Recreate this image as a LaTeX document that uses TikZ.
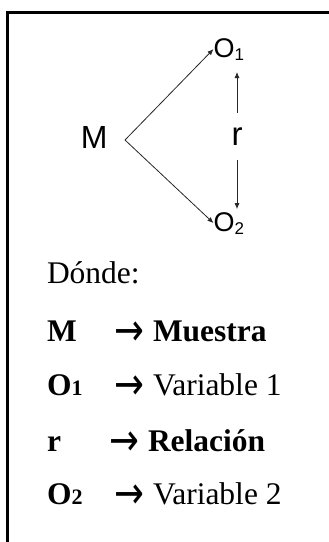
\documentclass[tikz,border=0pt]{standalone}
\usepackage{fontspec}
\setmainfont{Liberation Serif}
\newfontfamily\diagfont{Liberation Sans}
\newfontfamily\arrowfont{DejaVu Sans}
\usetikzlibrary{arrows.meta}
\tikzset{
  lbl/.style={inner sep=0pt, outer sep=0pt, anchor=base west},
  dg/.style={lbl, font=\diagfont\fontsize{27}{27}\selectfont},
  conn/.style={line width=0.8pt, draw=black!85, -{Latex[length=6pt,width=5pt]}},
  leg/.style={lbl, font=\fontsize{31.5}{31.5}\selectfont},
  legarrow/.style={lbl, font=\arrowfont\fontsize{31}{31}\selectfont},
  frameline/.style={line width=3pt, line join=miter}
}
\newcommand{\dsub}[1]{\raisebox{-3pt}{\fontsize{17}{17}\selectfont #1}}
\newcommand{\lsub}[1]{{\fontsize{22}{22}\selectfont #1}}
\newcommand{\bigarrow}{\raisebox{-4pt}{\scalebox{1.15}[1.45]{→}}}
\begin{document}
\begin{tikzpicture}[x=1pt,y=-1pt]
\useasboundingbox (0,0) rectangle (329,542);
% frame (only top and left sides visible)
\draw[frameline] (7.7,542) -- (7.7,12.3) -- (329,12.3);

% diagram
\node[dg, font=\diagfont\fontsize{32}{32}\selectfont] (M) at (81,148) {M};
\node[dg] (O1) at (213.5,57) {O\dsub{1}};
\node[dg] (O2) at (213.5,231) {O\dsub{2}};
\node[inner sep=0pt, outer sep=0pt, anchor=base, font=\diagfont\fontsize{33}{33}\selectfont] (r) at (237,145) {r};
\coordinate (v) at (125,140);
\draw[conn] (v) -- (O1.west);
\draw[conn] (v) -- (O2.west);
\draw[conn, shorten <=14.5pt, shorten >=12pt] (r.north) -- (r.north |- O1.south);
\draw[conn, shorten <=15pt, shorten >=3pt] (r.south) -- (r.south |- O2.north);

% legend
\node[leg] (donde) at (47,283) {Dónde:};
\node[leg] (kM) at (47,341) {\textbf{M}};
\node[legarrow] (aM) at (114,341) {\bigarrow};
\node[leg] (vM) at (153,341) {\textbf{Muestra}};
\node[leg] (kO1) at (47,395) {\textbf{O\lsub{1}}};
\node[legarrow] (aO1) at (114,395) {\bigarrow};
\node[leg] (vO1) at (153,395) {Variable 1};
\node[leg] (kr) at (47,451) {\textbf{r}};
\node[legarrow] (ar) at (109,451) {\bigarrow};
\node[leg] (vr) at (148,451) {\textbf{Relación}};
\node[leg] (kO2) at (47,504) {\textbf{O\lsub{2}}};
\node[legarrow] (aO2) at (114,504) {\bigarrow};
\node[leg] (vO2) at (153,504) {Variable 2};
\end{tikzpicture}
\end{document}
